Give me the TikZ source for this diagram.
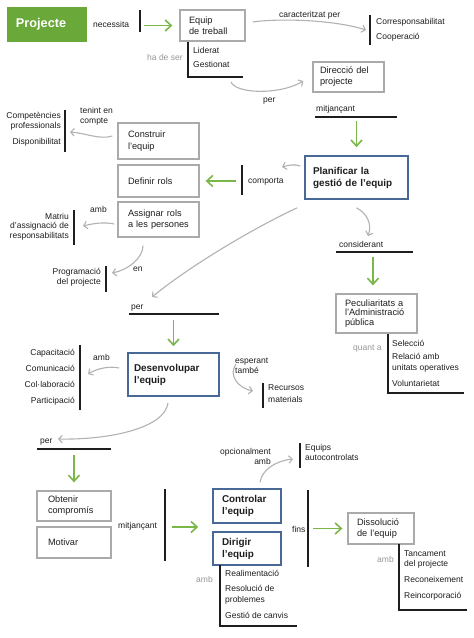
\documentclass[tikz,border=0pt]{standalone}
\usepackage{fontspec}
\setmainfont{Liberation Sans}
\usetikzlibrary{arrows.meta}
\definecolor{pgreen}{RGB}{106,168,58}
\definecolor{agreen}{RGB}{122,182,72}
\definecolor{bgray}{RGB}{170,170,170}
\definecolor{agray}{RGB}{178,178,178}
\definecolor{tgray}{RGB}{150,150,150}
\definecolor{bblue}{RGB}{72,104,150}
\definecolor{ink}{RGB}{30,30,30}
\newcommand\fl[1]{\fontsize{8.5}{#1}\selectfont}
\newcommand\fbx[1]{\fontsize{9.2}{#1}\selectfont}
\newcommand\fbb[1]{\bfseries\fontsize{9.9}{#1}\selectfont}
\begin{document}
\begin{tikzpicture}[x=1pt,y=-1pt,
  lbl/.style={inner sep=0pt, font=\fl{11}, text=ink, align=left, anchor=north west,
    execute at begin node={\rule{0pt}{8pt}}},
  glbl/.style={lbl, text=tgray},
  gbox/.style={draw=bgray, line width=1.3pt, inner xsep=9pt, inner ysep=0pt, align=left,
    font=\fbx{11}, text=ink},
  bbox/.style={draw=bblue, line width=1.6pt, inner xsep=8pt, inner ysep=0pt, align=left,
    font=\fbb{12}, text=ink},
  garrow/.style={draw=agray, line width=1.1pt, -{Straight Barb[length=3.5pt,width=7.5pt]}},
  grarrow/.style={draw=agreen, line width=1.6pt, -{Straight Barb[length=6pt,width=11pt]}},
  bar/.style={draw=ink, line width=1.7pt},
  uline/.style={draw=ink, line width=1.4pt}]
\useasboundingbox[fill=white] (0,0) rectangle (474,638);

% ---------- boxes ----------
\node[fill=pgreen, text=white, font=\bfseries\fontsize{12.7}{14}\selectfont, inner xsep=9pt,
  inner ysep=0pt, text width=62pt, minimum height=35pt, align=left] (projecte) at (47,24.5) {Projecte};
\node[gbox, text width=47pt, minimum height=31pt] (equip) at (212.5,25.5) {Equip\\de treball};
\node[gbox, inner xsep=7pt, text width=57pt, minimum height=30pt] (direccio) at (348.5,77) {Direcció del\\projecte};
\node[bbox, text width=87pt, minimum height=43pt] (planif) at (356.5,177.5) {Planificar la\\gestió de l’equip};
\node[gbox, inner xsep=10pt, text width=61pt, minimum height=36pt, font=\fbx{12}] (construir) at (158.5,141) {Construir\\l’equip};
\node[gbox, inner xsep=10pt, text width=61pt, minimum height=32pt] (definir) at (158.5,181) {Definir rols};
\node[gbox, inner xsep=10pt, text width=61pt, minimum height=35pt] (assignar) at (158.5,219.5) {Assignar rols\\a les persones};
\node[gbox, text width=63pt, minimum height=39pt, font=\fbx{9.5}] (pecul) at (376.5,313.5) {Peculiaritats a\\l’Administració\\pública};
\node[bbox, inner xsep=6pt, text width=79pt, minimum height=43pt] (desenv) at (173.5,374.5) {Desenvolupar\\l’equip};
\node[gbox, inner xsep=11pt, text width=52pt, minimum height=30pt] (obtenir) at (74,506) {Obtenir\\compromís};
\node[gbox, inner xsep=11pt, text width=52pt, minimum height=31pt] (motivar) at (74,542.5) {Motivar};
\node[bbox, inner xsep=9pt, text width=50pt, minimum height=34pt] (controlar) at (247,506) {Controlar\\l’equip};
\node[bbox, inner xsep=9pt, text width=50pt, minimum height=33pt] (dirigir) at (247,548.5) {Dirigir\\l’equip};
\node[gbox, text width=48pt, minimum height=31pt] (dissol) at (381,528.5) {Dissolució\\de l’equip};

% ---------- labels and lists ----------
\node[lbl] (necessita) at (93,19) {necessita};
\node[glbl] (hadeser) at (147,52) {ha de ser};
\node[lbl] (caract) at (279,9) {caracteritzat per};
\node[lbl, font=\fl{15}] (corresp) at (376,18) {Corresponsabilitat\\Cooperació};
\node[lbl, font=\fl{14}] (liderat) at (193,47) {Liderat\\Gestionat};
\node[lbl] (per1) at (263,94) {per};
\node[lbl] (mitj1) at (316,103) {mitjançant};
\node[lbl] (comporta) at (248,175) {comporta};
\node[lbl, font=\fl{10}] (tenint) at (80,107) {tenint en\\compte};
\node[lbl, font=\fl{10}, align=right, anchor=north east] (compet) at (61,112) {Competències\\professionals\\[6pt]Disponibilitat};
\node[lbl] (amb1) at (90,204) {amb};
\node[lbl, font=\fl{9.5}, align=right, anchor=north east] (matriu) at (69,213) {Matriu\\d’assignació de\\responsabilitats};
\node[lbl] (en) at (133,263) {en};
\node[lbl, font=\fl{10}, align=right, anchor=north east] (prog) at (101,268) {Programació\\del projecte};
\node[lbl] (per2) at (131,301) {per};
\node[lbl] (consid) at (339,239) {considerant};
\node[glbl] (quanta) at (353,342) {quant a};
\node[lbl] (selec) at (392,340) {Selecció\\[2pt]Relació amb\\unitats operatives\\[5pt]Voluntarietat};
\node[lbl] (amb2) at (93,352) {amb};
\node[lbl, font=\fl{16}, align=right, anchor=north east] (capac) at (75,349) {Capacitació\\Comunicació\\Col·laboració\\Participació};
\node[lbl, font=\fl{10}] (esperant) at (235,358) {esperant\\també};
\node[lbl, font=\fl{12}] (recursos) at (268,384) {Recursos\\materials};
\node[lbl] (per3) at (40,435) {per};
\node[lbl] (mitj2) at (118,520) {mitjançant};
\node[lbl, font=\fl{10}, align=right, anchor=north east] (opcional) at (271,448) {opcionalment\\amb};
\node[lbl, font=\fl{10}] (equips) at (305,444) {Equips\\autocontrolats};
\node[lbl] (fins) at (292,524) {fins};
\node[glbl] (amb3) at (377,554) {amb};
\node[lbl, font=\fl{10}] (tanc) at (404,550) {Tancament\\del projecte\\[6pt]Reconeixement\\[6pt]Reincorporació};
\node[glbl] (amb4) at (196,574) {amb};
\node[lbl] (realim) at (225,570) {Realimentació\\[4pt]Resolució de\\problemes\\[5pt]Gestió de canvis};

% ---------- bars, brackets, underlines ----------
\draw[bar] (139.7,10) -- (139.7,32);
\draw[bar] (188,42) -- (188,77) -- (243,77);
\draw[bar] (369.7,15) -- (369.7,45);
\draw[uline] (315,117) -- (397,117);
\draw[bar] (242,165) -- (242,195);
\draw[bar] (65,110) -- (65,152);
\draw[bar] (74,210) -- (74,245);
\draw[bar] (106,266) -- (106,292);
\draw[uline] (129,314) -- (219,314);
\draw[uline] (336,252) -- (413,252);
\draw[bar] (388,334) -- (388,393) -- (464,393);
\draw[bar] (80,345) -- (80,410);
\draw[bar] (263,383) -- (263,408);
\draw[uline] (37,449) -- (111,449);
\draw[bar] (165,489) -- (165,561);
\draw[bar] (300,443) -- (300,468);
\draw[bar] (308,490) -- (308,567);
\draw[bar] (399,544) -- (399,610) -- (467,610);
\draw[bar] (220,565) -- (220,626) -- (297,626);

% ---------- free ends ----------
\coordinate (g1) at (144,25.5);
\coordinate (corEnd) at (366,30);
\coordinate (lidStart) at (231,82);
\coordinate (compEnd) at (282,167);
\coordinate (g5) at (236,181);
\coordinate (competEnd) at (70,132);
\coordinate (matriuEnd) at (83,226);
\coordinate (progEnd) at (112,273);
\coordinate (per2End) at (152,297);
\coordinate (considEnd) at (368,236);
\coordinate (gm1) at (356.5,121);
\coordinate (gp2) at (173.5,320);
\coordinate (gc) at (373,257);
\coordinate (capacEnd) at (88,374);
\coordinate (recStart) at (236,364);
\coordinate (recEnd) at (253,391);
\coordinate (per3End) at (58,439);
\coordinate (gp3) at (74,455);
\coordinate (gm2) at (172,527);
\coordinate (equipsEnd) at (293,459);
\coordinate (gf) at (313,528.5);

% ---------- connectors ----------
\draw[grarrow] (g1) -- ([xshift=-7pt]equip.west);
\draw[garrow] ([shift={(7pt,3.5pt)}]equip.east) .. controls (280,18) and (335,20) .. (corEnd);
\draw[garrow] (lidStart) .. controls (236,94) and (280,95) .. ([shift={(-9pt,-4pt)}]direccio.west);
\draw[grarrow] (gm1) -- ([yshift=8pt]planif.north);
\draw[garrow] ([shift={(-4pt,11.5pt)}]planif.west) .. controls (295,164) and (289,165) .. (compEnd);
\draw[grarrow] (g5) -- ([xshift=6pt]definir.east);
\draw[garrow] ([shift={(-5pt,5pt)}]construir.west) .. controls (100,140) and (85,133) .. (competEnd);
\draw[garrow] ([shift={(-3pt,-4.5pt)}]assignar.west) .. controls (105,222) and (95,223) .. (matriuEnd);
\draw[garrow] ([shift={(-15.5pt,-8pt)}]assignar.south) .. controls (143,258) and (128,270) .. (progEnd);
\draw[garrow] ([shift={(-7pt,-8pt)}]planif.south west) .. controls (260,225) and (195,262) .. (per2End);
\draw[garrow] ([yshift=-8pt]planif.south) .. controls (368,214) and (372,225) .. (considEnd);
\draw[grarrow] (gp2) -- ([yshift=6pt]desenv.north);
\draw[grarrow] (gc) -- ([shift={(-3.5pt,8pt)}]pecul.north);
\draw[garrow] ([shift={(-8pt,6.5pt)}]desenv.west) .. controls (110,366) and (98,368) .. (capacEnd);
\draw[garrow] (recStart) .. controls (228,375) and (238,388) .. (recEnd);
\draw[garrow] ([shift={(-5.5pt,-6pt)}]desenv.south) .. controls (165,428) and (110,440) .. (per3End);
\draw[grarrow] (gp3) -- ([yshift=8pt]obtenir.north);
\draw[grarrow] (gm2) -- ([shift={(-14pt,-21pt)}]controlar.west);
\draw[garrow] ([shift={(13pt,6pt)}]controlar.north) .. controls (262,470) and (275,461) .. (equipsEnd);
\draw[grarrow] (gf) -- ([xshift=-5pt]dissol.west);
\end{tikzpicture}
\end{document}
